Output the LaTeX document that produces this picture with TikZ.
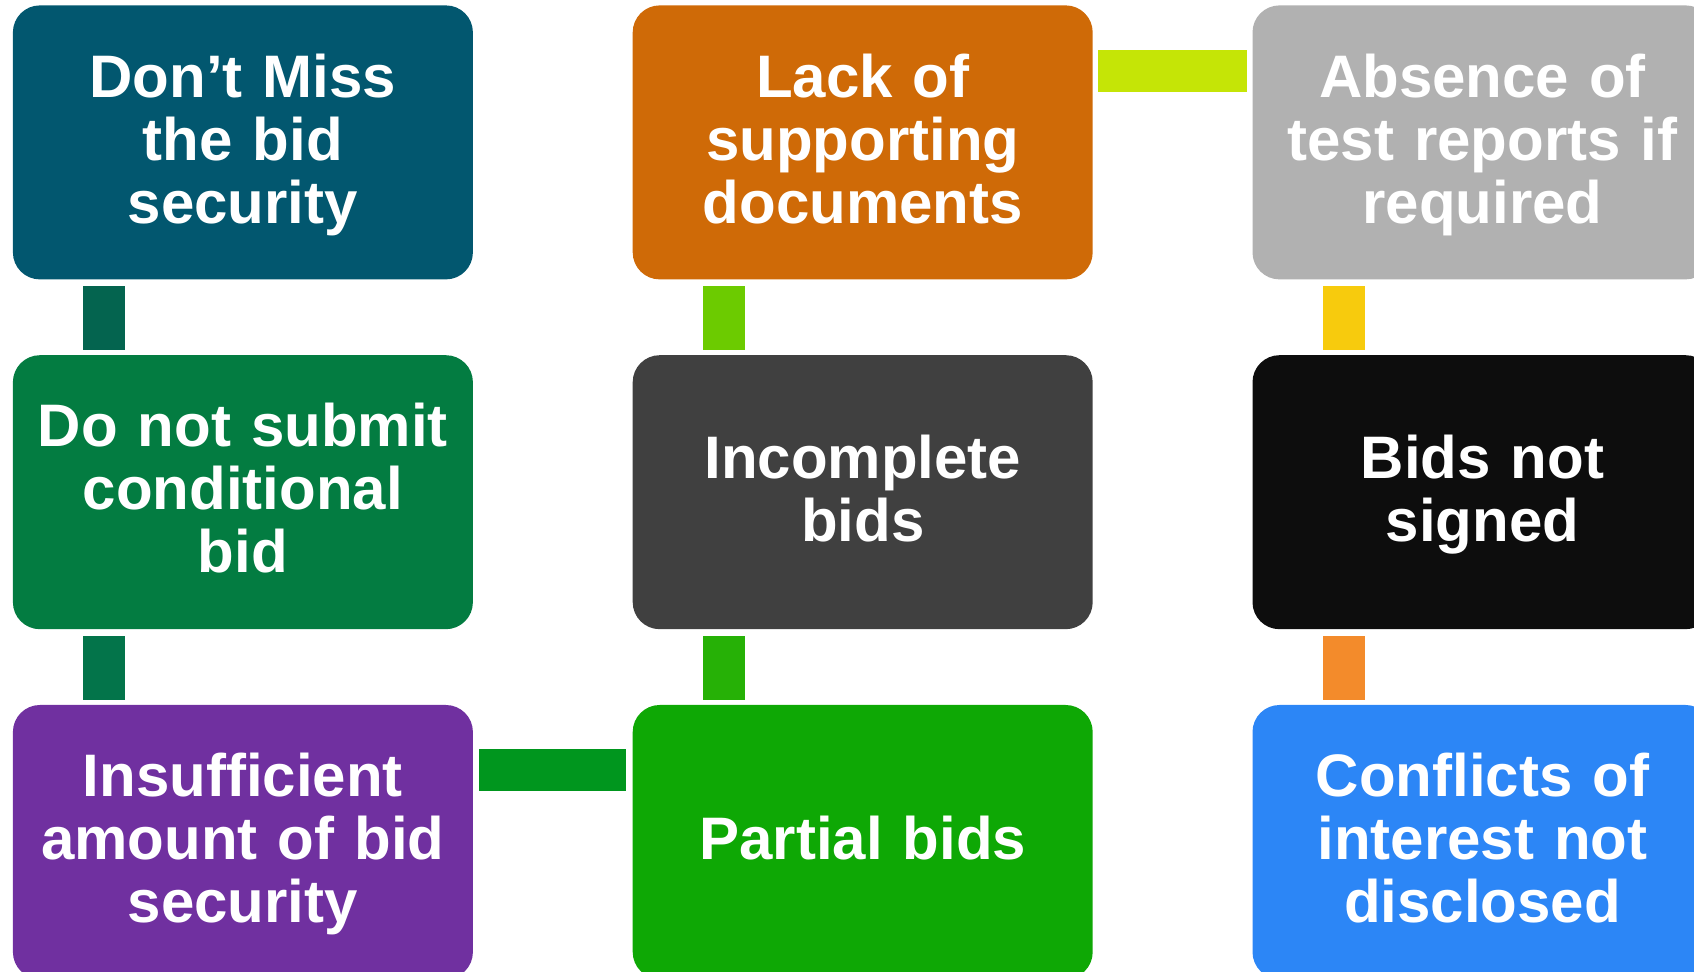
\documentclass[tikz,border=0pt]{standalone}
\usepackage{fontspec}
\setmainfont{Liberation Sans}
\usetikzlibrary{positioning}
\definecolor{missteal}{HTML}{02576F}
\definecolor{condgreen}{HTML}{037C41}
\definecolor{insufpurple}{HTML}{7030A0}
\definecolor{lackorange}{HTML}{CF6A07}
\definecolor{incompgray}{HTML}{404040}
\definecolor{partialgreen}{HTML}{0EA805}
\definecolor{absencegray}{HTML}{B1B1B1}
\definecolor{signedblack}{HTML}{0D0D0D}
\definecolor{conflictblue}{HTML}{2C86F6}
\definecolor{linkteal}{HTML}{04644F}
\definecolor{linkgreen}{HTML}{03744A}
\definecolor{linklime}{HTML}{C5E506}
\definecolor{linkleaf}{HTML}{6CCB00}
\definecolor{linkgrass}{HTML}{26B106}
\definecolor{linkforest}{HTML}{00961E}
\definecolor{linkyellow}{HTML}{F7CB0D}
\definecolor{linkorange}{HTML}{F38B2B}

\begin{document}
\begin{tikzpicture}
          [every node/.style={rounded corners=13.5pt, minimum width=230pt,
            minimum height=137pt, inner sep=0pt, text width=228pt, align=center,
            text=white, font=\bfseries\fontsize{30}{31.5}\selectfont,
            execute at begin node={\rule{0pt}{0.8em}},
            execute at end node={\rule[-0.21em]{0pt}{0.21em}}},
           node distance=37.5pt and 79.5pt]
          \useasboundingbox (0,0) rectangle (847pt,-486pt);
          \clip (0,0) rectangle (847pt,-486pt);

          \node (miss) [fill=missteal, anchor=north west] at (6.25pt,-2.5pt) {Don’t Miss\\the bid\\security};
          \node (cond) [fill=condgreen, below = of miss] {Do not submit\\conditional\\bid};
          \node (insuf) [fill=insufpurple, below = of cond] {Insufficient\\amount of bid\\security};
          \node (lack) [fill=lackorange, right = of miss] {Lack of\\supporting\\documents};
          \node (incomp) [fill=incompgray, below = of lack] {Incomplete\\bids};
          \node (partial) [fill=partialgreen, below = of incomp] {Partial bids};
          \node (absence) [fill=absencegray, right = of lack] {Absence of\\test reports if\\required};
          \node (signed) [fill=signedblack, below = of absence] {Bids not\\signed};
          \node (conflict) [fill=conflictblue, below = of signed] {Conflicts of\\interest not\\disclosed};

          \fill[linkteal] ([xshift=35.25pt,yshift=-3pt]miss.south west) rectangle ([xshift=56.25pt,yshift=2.5pt]cond.north west);
          \fill[linkgreen] ([xshift=35.25pt,yshift=-3pt]cond.south west) rectangle ([xshift=56.25pt,yshift=2.5pt]insuf.north west);
          \fill[linkleaf] ([xshift=35.25pt,yshift=-3pt]lack.south west) rectangle ([xshift=56.25pt,yshift=2.5pt]incomp.north west);
          \fill[linkgrass] ([xshift=35.25pt,yshift=-3pt]incomp.south west) rectangle ([xshift=56.25pt,yshift=2.5pt]partial.north west);
          \fill[linkyellow] ([xshift=35.25pt,yshift=-3pt]absence.south west) rectangle ([xshift=56.25pt,yshift=2.5pt]signed.north west);
          \fill[linkorange] ([xshift=35.25pt,yshift=-3pt]signed.south west) rectangle ([xshift=56.25pt,yshift=2.5pt]conflict.north west);
          \fill[linklime] ([xshift=2.5pt,yshift=-22.5pt]lack.north east) rectangle ([xshift=-2.5pt,yshift=-43.5pt]absence.north west);
          \fill[linkforest] ([xshift=2.75pt,yshift=-22pt]insuf.north east) rectangle ([xshift=-3pt,yshift=-43pt]partial.north west);

        \end{tikzpicture}
\end{document}
